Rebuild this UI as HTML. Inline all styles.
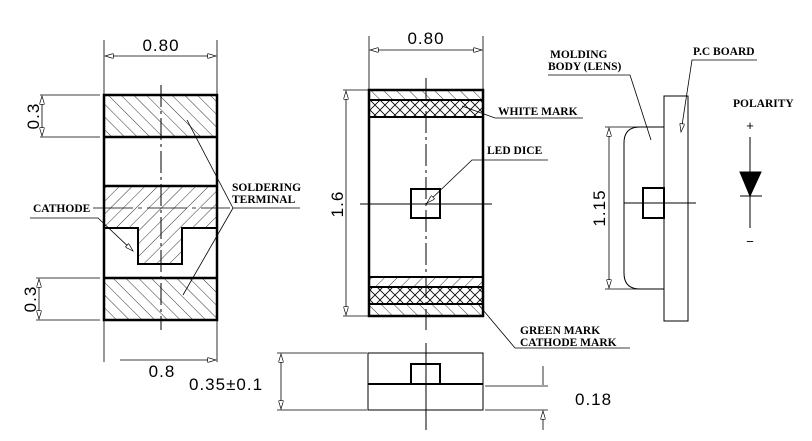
<!DOCTYPE html>
<html><head><meta charset="utf-8"><style>
html,body{margin:0;padding:0;background:#fff}
svg{display:block}
text{font-family:"Liberation Serif",serif;fill:#000}
.b{font-weight:bold;font-size:11.5px}
.d{font-family:"Liberation Sans",sans-serif;font-size:17px;letter-spacing:1px}
</style></head><body>
<svg width="812" height="441" viewBox="0 0 812 441" xmlns="http://www.w3.org/2000/svg">
<defs>
<pattern id="fs" width="9" height="9" patternUnits="userSpaceOnUse" patternTransform="rotate(45)"><line x1="0" y1="0" x2="0" y2="9" stroke="#000" stroke-width="0.8"/></pattern>
<pattern id="bs" width="9" height="9" patternUnits="userSpaceOnUse" patternTransform="rotate(-45)"><line x1="0" y1="0" x2="0" y2="9" stroke="#000" stroke-width="0.8"/></pattern>
<pattern id="cx" width="10" height="10" patternUnits="userSpaceOnUse"><path d="M0 0L10 10M10 0L0 10" stroke="#000" stroke-width="0.8"/></pattern>
<marker id="a" viewBox="0 0 10 6" refX="10" refY="3" markerWidth="10" markerHeight="5" orient="auto-start-reverse" markerUnits="userSpaceOnUse"><path d="M0 0L10 3L0 6z" fill="#fff" stroke="#000" stroke-width="0.8"/></marker>
</defs>
<g stroke="#000" fill="none">
<!-- LEFT VIEW -->
<rect x="104" y="95" width="113" height="42" fill="url(#bs)"/>
<rect x="104" y="278" width="113" height="42" fill="url(#bs)"/>
<path d="M104 186H217V228H182V264H138V228H104Z" fill="url(#fs)"/>
<rect x="104" y="95" width="113" height="225" stroke-width="2.5"/>
<path d="M104 137H217M104 186H217M104 278H217" stroke-width="2.5"/>
<path d="M104 228H138V264H182V228H217" stroke-width="2"/>
<path d="M161 85V330" stroke-dasharray="22 4 3 4" stroke-width="1"/>
<path d="M104 40V95M217 40V95M104 320V362M217 320V362" stroke-width="0.8"/>
<path d="M105 56H216" stroke-width="0.8" marker-start="url(#a)" marker-end="url(#a)"/>
<path d="M40 95H100M40 137H100M36 278H100M36 320H100" stroke-width="0.8"/>
<path d="M42 96V136" stroke-width="0.8" marker-start="url(#a)" marker-end="url(#a)"/>
<path d="M39 279V319" stroke-width="0.8" marker-start="url(#a)" marker-end="url(#a)"/>
<path d="M120 360H216" stroke-width="0.8" marker-end="url(#a)"/>
<path d="M93 208H230" stroke-width="0.8" stroke-dasharray="40 5 4 5"/>
<path d="M30 218H98L133 251" stroke-width="0.8" marker-end="url(#a)"/>
<path d="M300 208H233L187 120M233 208L183 295" stroke-width="0.8"/>
<!-- MIDDLE VIEW -->
<rect x="369" y="90" width="114" height="10" fill="url(#bs)"/>
<rect x="369" y="100" width="114" height="17" fill="url(#cx)"/>
<rect x="369" y="277" width="114" height="10" fill="url(#fs)"/>
<rect x="369" y="287" width="114" height="17" fill="url(#cx)"/>
<rect x="369" y="304" width="114" height="12" fill="url(#bs)"/>
<rect x="369" y="90" width="114" height="226" stroke-width="2.5"/>
<path d="M369 100H483M369 117H483M369 277H483M369 287H483M369 304H483" stroke-width="2"/>
<rect x="411" y="189" width="29" height="29" stroke-width="2"/>
<path d="M426 78V330" stroke-dasharray="22 4 3 4" stroke-width="1"/>
<path d="M360 204H492" stroke-width="1"/>
<path d="M369 36V90M483 36V90" stroke-width="0.8"/>
<path d="M370 50H482" stroke-width="0.8" marker-start="url(#a)" marker-end="url(#a)"/>
<path d="M343 90H369M343 316H369" stroke-width="0.8"/>
<path d="M346 91V315" stroke-width="0.8" marker-start="url(#a)" marker-end="url(#a)"/>
<path d="M583 118H495L462 106" stroke-width="0.8"/>
<path d="M548 160H472L427 203" stroke-width="0.8" marker-end="url(#a)"/>
<path d="M630 348H515L478 304" stroke-width="0.8"/>
<!-- RIGHT VIEW -->
<rect x="664" y="96" width="24" height="225" stroke-width="1"/>
<path d="M664 127H640Q624 127 624 143V273Q624 289 640 289H664" stroke-width="1"/>
<rect x="643" y="188" width="21" height="30" stroke-width="2"/>
<path d="M624 203H696" stroke-width="1"/>
<path d="M605 127H640M605 289H640" stroke-width="0.8"/>
<path d="M609 128V288" stroke-width="0.8" marker-start="url(#a)" marker-end="url(#a)"/>
<path d="M630 75H548M630 75L651 140" stroke-width="0.8"/>
<path d="M757 60H692L681 132" stroke-width="0.8" marker-end="url(#a)"/>
<path d="M750 137V228" stroke-width="1"/>
<path d="M740 172H761L750 196Z" fill="#000" stroke-width="1"/>
<path d="M740 196H762" stroke-width="1"/>
<!-- BOTTOM VIEW -->
<rect x="368" y="353" width="115" height="57" stroke-width="1"/>
<path d="M368 384H483" stroke-width="2"/>
<path d="M411 384V364H440V384" stroke-width="2"/>
<path d="M426 343V430" stroke-width="1"/>
<path d="M277 353H367M277 410H367" stroke-width="0.8"/>
<path d="M281 354V409" stroke-width="0.8" marker-start="url(#a)" marker-end="url(#a)"/>
<path d="M485 386H548M485 410H548" stroke-width="0.8"/>
<path d="M543 366V385M543 430V411" stroke-width="0.8" marker-end="url(#a)"/>
</g>
<g>
<text class="d" x="161" y="51" text-anchor="middle">0.80</text>
<text class="d" x="426" y="44" text-anchor="middle">0.80</text>
<text class="d" transform="translate(39,116) rotate(-90)" text-anchor="middle">0.3</text>
<text class="d" transform="translate(36,299) rotate(-90)" text-anchor="middle">0.3</text>
<text class="d" transform="translate(343,204) rotate(-90)" text-anchor="middle">1.6</text>
<text class="d" transform="translate(605,208) rotate(-90)" text-anchor="middle">1.15</text>
<text class="d" x="162" y="377" text-anchor="middle">0.8</text>
<text class="d" x="189" y="390">0.35±0.1</text>
<text class="d" x="575" y="405">0.18</text>
<text class="b" x="33" y="212">CATHODE</text>
<text class="b" x="232" y="191">SOLDERING</text>
<text class="b" x="232" y="203">TERMINAL</text>
<text class="b" x="498" y="115">WHITE  MARK</text>
<text class="b" x="487" y="154">LED  DICE</text>
<text class="b" x="520" y="334">GREEN  MARK</text>
<text class="b" x="520" y="346">CATHODE  MARK</text>
<text class="b" x="550" y="58">MOLDING</text>
<text class="b" x="548" y="70">BODY  (LENS)</text>
<text class="b" x="693" y="55">P.C  BOARD</text>
<text class="b" x="733" y="107">POLARITY</text>
<text x="750" y="130" text-anchor="middle" style="font-size:13px;font-family:'Liberation Sans',sans-serif">+</text>
<text x="750" y="246" text-anchor="middle" style="font-size:13px;font-family:'Liberation Sans',sans-serif">−</text>
</g>
</svg>
</body></html>
